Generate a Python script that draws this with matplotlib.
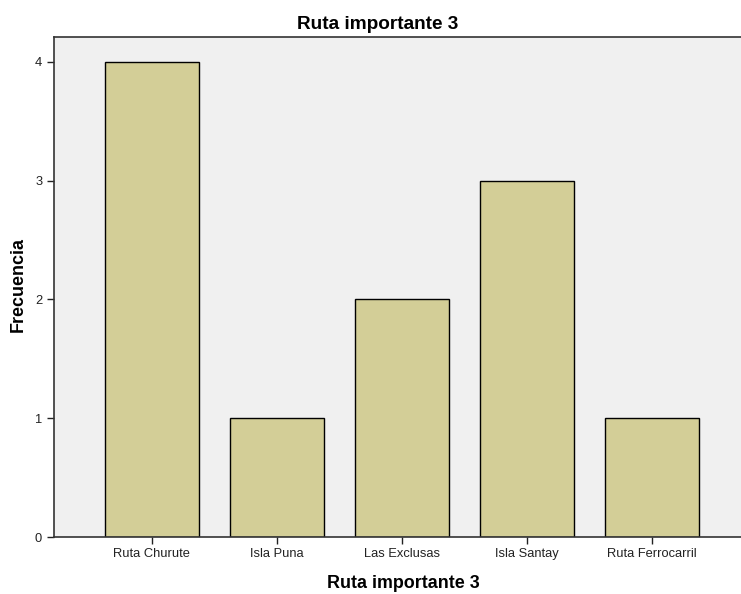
import numpy as np
import matplotlib.pyplot as plt

plt.rcParams['font.family'] = ['Liberation Sans', 'DejaVu Sans']

categorias = ['Ruta Churute', 'Isla Puna', 'Las Exclusas', 'Isla Santay', 'Ruta Ferrocarril']
frecuencia = [4, 1, 2, 3, 1]

W, H = 741, 594
fig = plt.figure(figsize=(W / 100, H / 100), dpi=100)
ax = fig.add_axes([54 / W, 57 / H, 687 / W, 500 / H])
ax.set_facecolor('#F0F0F0')

x = np.arange(len(categorias))
ax.bar(x, frecuencia, width=0.752, color='#D3CE97', edgecolor='black', linewidth=1.0, zorder=2)

ax.set_xlim(-0.78, len(categorias) - 1 + 0.714)
ax.set_ylim(0, 4.21)
ax.set_yticks([0, 1, 2, 3, 4])
ax.set_xticks(x)
ax.set_xticklabels(categorias)
ax.tick_params(axis='both', direction='out', length=5, width=1, labelsize=9.3, colors='#222222')
ax.tick_params(axis='x', pad=3)

for s in ['left', 'bottom', 'top']:
    ax.spines[s].set_color('#333333')
    ax.spines[s].set_linewidth(1.2)
ax.spines['right'].set_visible(False)

# titulos colocados como en la imagen original
fig.text(378 / W, 1 - 29 / H, 'Ruta importante 3', fontsize=13.7, fontweight='bold',
         ha='center', va='baseline')
fig.text(403 / W, 6 / H, 'Ruta importante 3', fontsize=12.9, fontweight='bold',
         ha='center', va='baseline')
fig.text(18 / W, 1 - 285 / H, 'Frecuencia', fontsize=12.9, fontweight='bold',
         ha='center', va='center', rotation=90)

fig.savefig('out.png', dpi=100)
